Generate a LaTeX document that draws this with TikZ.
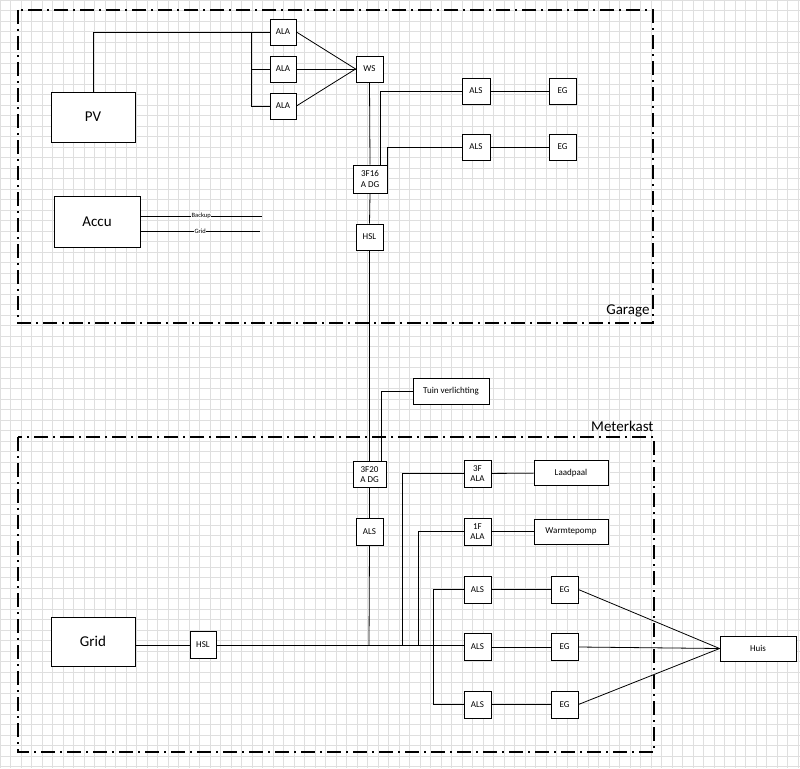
\documentclass[tikz,border=0pt]{standalone}
\usepackage{fontspec}
\setmainfont{Carlito}
\begin{document}
\begin{tikzpicture}[x=1pt,y=-1pt,
  bx/.style={draw,thick,fill=white,inner sep=0pt,font=\fontsize{9}{10.5}\selectfont,align=center},
  big/.style={bx,font=\fontsize{15}{17}\selectfont},
  w/.style={thick},
  area/.style={line width=1.8pt,dash pattern=on 14pt off 5pt on 2pt off 5pt}]
\useasboundingbox (0,0) rectangle (800,768);
\fill[white] (0,0) rectangle (800,768);
\foreach \i in {0,...,76} {
  \draw[gray!25,line width=0.4pt] (\i*10.5,0) -- (\i*10.5,768);
  \draw[gray!25,line width=0.4pt] (0,\i*10.5) -- (800,\i*10.5);
}
\draw[area] (18,10) rectangle (653,323);
\draw[area] (18,437) rectangle (654,752);
\node[anchor=south east,font=\fontsize{15}{17}\selectfont] (lg) at (653,321) {Garage};
\node[anchor=south east,font=\fontsize{15}{17}\selectfont] (lm) at (657,435) {Meterkast};
% Garage
\node[big,minimum width=84,minimum height=50] (pv) at (93,117) {PV};
\node[big,minimum width=86,minimum height=51] (accu) at (97,221.5) {Accu};
\node[bx,minimum width=26,minimum height=26] (a1) at (283,32) {ALA};
\node[bx,minimum width=26,minimum height=26] (a2) at (283,69) {ALA};
\node[bx,minimum width=26,minimum height=26] (a3) at (283,106) {ALA};
\node[bx,minimum width=27,minimum height=26] (ws) at (369.5,69) {WS};
\node[bx,minimum width=34,minimum height=28] (f16) at (370,179) {3F16\\A DG};
\node[bx,minimum width=27,minimum height=26] (hsl1) at (369.5,237) {HSL};
\node[bx,minimum width=28,minimum height=26] (s1) at (476,91) {ALS};
\node[bx,minimum width=27,minimum height=26] (e1) at (562.5,91) {EG};
\node[bx,minimum width=28,minimum height=26] (s2) at (476,147) {ALS};
\node[bx,minimum width=27,minimum height=26] (e2) at (562.5,147) {EG};
\coordinate (pvb) at (251,32);
\draw[w] (pv.north) |- (a1.west);
\draw[w] (pvb) |- (a2.west);
\draw[w] (pvb) |- (a3.west);
\draw[w] (a1.east) -- (ws.west);
\draw[w] (a2.east) -- (ws.west);
\draw[w] (a3.east) -- (ws.west);
\draw[w] (ws.south) -- (f16.north);
\draw[w] (f16.south) -- (hsl1.north);
\draw[w] (f16.north -| 380,0) |- (s1.west);
\draw[w] (f16.north east) |- (s2.west);
\draw[w] (s1) -- (e1);
\draw[w] (s2) -- (e2);
\coordinate (bk) at (262,216);
\coordinate (gr) at (260,231);
\draw (accu.east |- bk) -- node[fill=white,inner sep=0.5pt,font=\fontsize{6.5}{7}\selectfont]{Backup} (bk);
\draw (accu.east |- gr) -- node[fill=white,inner sep=0.5pt,font=\fontsize{6.5}{7}\selectfont]{Grid} (gr);
% Meterkast
\node[bx,minimum width=76,minimum height=26] (tuin) at (451,391) {Tuin verlichting};
\node[bx,minimum width=33,minimum height=26] (f20) at (369.5,474.5) {3F20\\A DG};
\node[bx,minimum width=27,minimum height=27] (als0) at (369.5,531.5) {ALS};
\node[big,minimum width=84,minimum height=49] (grid) at (93,641.5) {Grid};
\node[bx,minimum width=26,minimum height=27] (hsl2) at (203,645) {HSL};
\node[bx,minimum width=27,minimum height=27] (ala3) at (477.5,473.5) {3F\\ALA};
\node[bx,minimum width=74,minimum height=25] (laad) at (571,473) {Laadpaal};
\node[bx,minimum width=27,minimum height=27] (ala1) at (477.5,531.5) {1F\\ALA};
\node[bx,minimum width=74,minimum height=25] (wp) at (571,531.5) {Warmtepomp};
\node[bx,minimum width=27,minimum height=27] (m1) at (477.5,589.5) {ALS};
\node[bx,minimum width=27,minimum height=27] (m2) at (477.5,647) {ALS};
\node[bx,minimum width=27,minimum height=27] (m3) at (477.5,704.5) {ALS};
\node[bx,minimum width=27,minimum height=27] (g1) at (564.5,589.5) {EG};
\node[bx,minimum width=27,minimum height=27] (g2) at (564.5,647) {EG};
\node[bx,minimum width=27,minimum height=27] (g3) at (564.5,704.5) {EG};
\node[bx,minimum width=76,minimum height=25] (huis) at (758,648.5) {Huis};
\draw[w] (hsl1.south) -- (f20.north);
\draw[w] (f20.north -| 381,0) |- (tuin.west);
\draw[w] (f20.south) -- (als0.north);
\coordinate (bus) at (369,645);
\draw[w] (als0.south) -- (bus);
\draw[w] (grid.east |- hsl2) -- (hsl2.west);
\draw[w] (hsl2.east) -- (hsl2.east -| m2.west);
\draw[w] (402,645) |- (ala3.west);
\draw[w] (418,645) |- (ala1.west);
\draw[w] (m1.west) -| (433,704.5) -- (m3.west);
\draw[w] (ala3) -- (laad);
\draw[w] (ala1) -- (wp);
\draw[w] (m1) -- (g1);
\draw[w] (m2) -- (g2);
\draw[w] (m3) -- (g3);
\draw[w] (g1.east) -- (huis.west);
\draw[w] (g2.east) -- (huis.west);
\draw[w] (g3.east) -- (huis.west);
\end{tikzpicture}
\end{document}
